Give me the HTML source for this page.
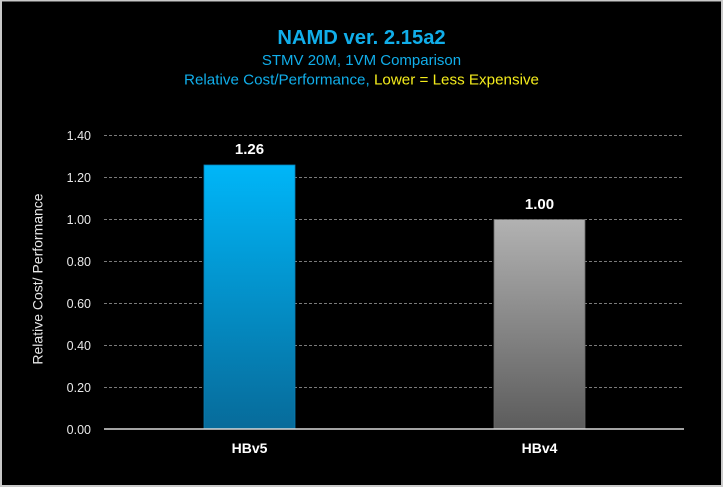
<!DOCTYPE html>
<html><head><meta charset="utf-8"><style>
html,body{margin:0;padding:0;background:#000;}
body{width:723px;height:487px;overflow:hidden;}
svg{display:block;font-family:"Liberation Sans",Arial,sans-serif;}
</style></head><body>
<svg width="723" height="487" viewBox="0 0 723 487" xmlns="http://www.w3.org/2000/svg">
<defs>
<linearGradient id="gb" x1="0" y1="0" x2="0" y2="1">
<stop offset="0" stop-color="#00b6f8"/><stop offset="1" stop-color="#076b9a"/>
</linearGradient>
<linearGradient id="gg" x1="0" y1="0" x2="0" y2="1">
<stop offset="0" stop-color="#b2b2b2"/><stop offset="1" stop-color="#5c5c5c"/>
</linearGradient>
</defs>
<rect x="0" y="0" width="723" height="487" fill="#c9c9c9"/>
<rect x="2" y="1.5" width="719" height="483.5" fill="#000"/>
<text x="361.5" y="44" text-anchor="middle" fill="#11aeea" font-size="20.2" font-weight="bold">NAMD ver. 2.15a2</text>
<text x="361.5" y="65" text-anchor="middle" fill="#11aeea" font-size="15">STMV 20M, 1VM Comparison</text>
<text x="361.5" y="84.5" text-anchor="middle" font-size="15.2"><tspan fill="#11aeea">Relative Cost/Performance, </tspan><tspan fill="#f4ec1c">Lower = Less Expensive</tspan></text>
<g stroke="#7a7a7a" stroke-width="1" stroke-dasharray="3,2">
<line x1="104" y1="135.5" x2="684" y2="135.5"/>
<line x1="104" y1="177.5" x2="684" y2="177.5"/>
<line x1="104" y1="219.5" x2="684" y2="219.5"/>
<line x1="104" y1="261.5" x2="684" y2="261.5"/>
<line x1="104" y1="303.5" x2="684" y2="303.5"/>
<line x1="104" y1="345.5" x2="684" y2="345.5"/>
<line x1="104" y1="387.5" x2="684" y2="387.5"/>
</g>
<g fill="#e8e8e8" font-size="12.5" text-anchor="end">
<text x="91" y="140">1.40</text>
<text x="91" y="182">1.20</text>
<text x="91" y="224">1.00</text>
<text x="91" y="266">0.80</text>
<text x="91" y="308">0.60</text>
<text x="91" y="350">0.40</text>
<text x="91" y="392">0.20</text>
<text x="91" y="434">0.00</text>
</g>
<text transform="translate(42.5,279) rotate(-90)" text-anchor="middle" fill="#e8e8e8" font-size="14">Relative Cost/ Performance</text>
<rect x="204" y="165" width="91" height="264" fill="url(#gb)" stroke="#0a7fb5" stroke-width="0.8"/>
<rect x="494" y="219.5" width="91" height="209.5" fill="url(#gg)" stroke="#6a6a6a" stroke-width="0.8"/>
<line x1="104" y1="429" x2="684" y2="429" stroke="#d9d9d9" stroke-width="1.5"/>
<g fill="#ffffff" font-weight="bold" text-anchor="middle">
<text x="249.5" y="154" font-size="15">1.26</text>
<text x="539.5" y="209" font-size="15">1.00</text>
<text x="249.5" y="453" font-size="14">HBv5</text>
<text x="539.5" y="453" font-size="14">HBv4</text>
</g>
</svg>
</body></html>
